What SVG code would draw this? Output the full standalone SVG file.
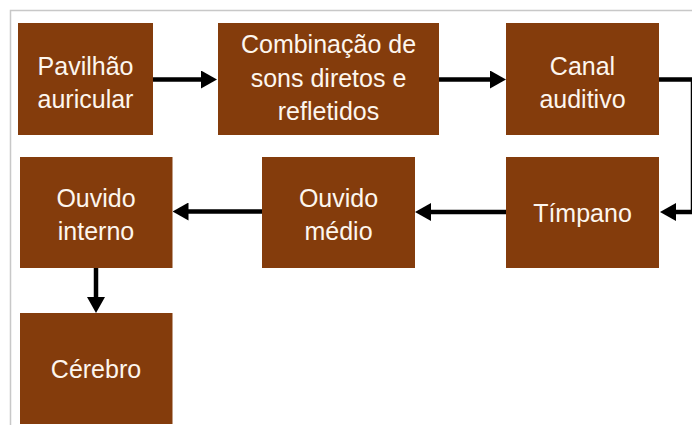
<svg xmlns="http://www.w3.org/2000/svg" width="692" height="425" viewBox="0 0 692 425">
<style>
.box{fill:#843C0C;}
.lbl{font-family:"Liberation Sans",Arial,sans-serif;font-size:25px;fill:#FDF6EE;text-anchor:middle;}
.conn{fill:none;stroke:#000;stroke-width:4.5;marker-end:url(#ah);}
.frame{fill:none;stroke:#C8C8C8;stroke-width:1.5;}
</style>
<defs>
<marker id="ah" viewBox="0 0 16 18" markerWidth="16" markerHeight="18" refX="1" refY="9" orient="auto" markerUnits="userSpaceOnUse">
<path d="M0,0 L16,9 L0,18 Z" fill="#000"/>
</marker>
</defs>
<rect width="692" height="425" fill="#fff"/>
<path class="frame" d="M10.5,425 V10.5 H692"/>
<g id="connectors">
<path class="conn" d="M153,79.5 H202"/>
<path class="conn" d="M439,79.5 H491"/>
<path class="conn" d="M659,79.5 H693 V212 H675"/>
<path class="conn" d="M506,212 H430"/>
<path class="conn" d="M262,211.5 H187.5"/>
<path class="conn" d="M96,268 V298"/>
</g>
<g id="pavilhao">
<rect class="box" x="18" y="23" width="135" height="112"/>
<text class="lbl" x="85.5" y="74.5">Pavilhão</text>
<text class="lbl" x="85.5" y="107.5">auricular</text>
</g>
<g id="combinacao">
<rect class="box" x="218" y="23" width="221" height="112"/>
<text class="lbl" x="328.5" y="53">Combinação de</text>
<text class="lbl" x="328.5" y="86.5">sons diretos e</text>
<text class="lbl" x="328.5" y="120">refletidos</text>
</g>
<g id="canal">
<rect class="box" x="506" y="23" width="153" height="112"/>
<text class="lbl" x="582.5" y="74.5">Canal</text>
<text class="lbl" x="582.5" y="107.5">auditivo</text>
</g>
<g id="timpano">
<rect class="box" x="506" y="157" width="153" height="111"/>
<text class="lbl" x="582.5" y="221.5">Tímpano</text>
</g>
<g id="ouvido-medio">
<rect class="box" x="262" y="157" width="153" height="111"/>
<text class="lbl" x="338.5" y="207">Ouvido</text>
<text class="lbl" x="338.5" y="240">médio</text>
</g>
<g id="ouvido-interno">
<rect class="box" x="20" y="157" width="152.5" height="111"/>
<text class="lbl" x="96" y="207">Ouvido</text>
<text class="lbl" x="96" y="240">interno</text>
</g>
<g id="cerebro">
<rect class="box" x="20" y="313" width="152.5" height="111"/>
<text class="lbl" x="96" y="378">Cérebro</text>
</g>
</svg>
